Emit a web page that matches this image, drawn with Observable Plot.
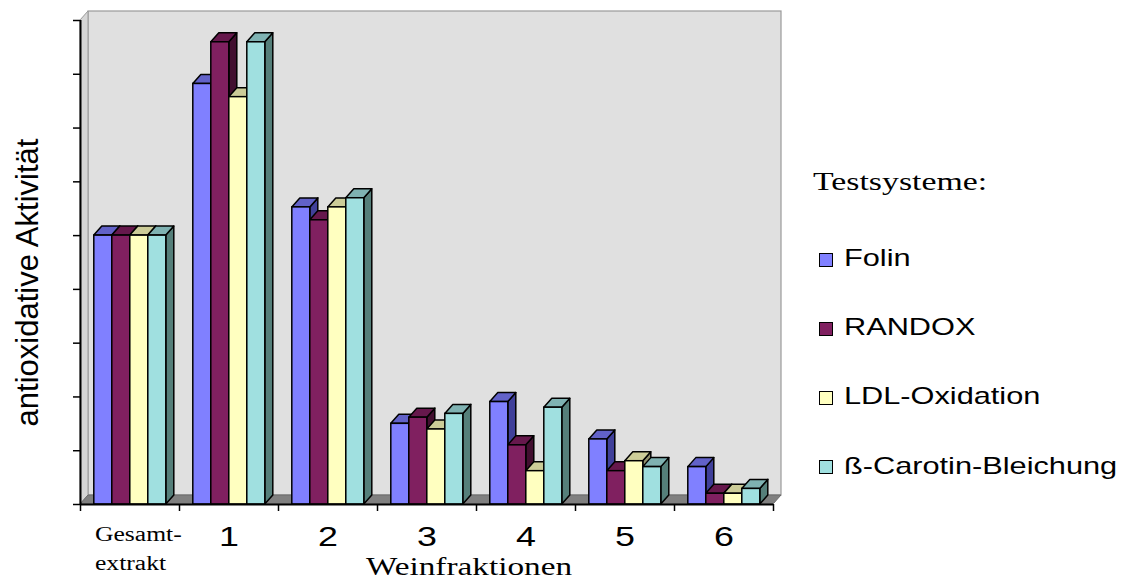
<!DOCTYPE html>
<html>
<head>
<meta charset="utf-8">
<script src="https://cdn.jsdelivr.net/npm/d3@7"></script>
<script src="https://cdn.jsdelivr.net/npm/@observablehq/plot@0.6"></script>
<style>
  body { margin: 0; background: #fff; }
  #wrap { position: relative; width: 1122px; height: 586px; overflow: hidden; }
  #wrap svg { position: absolute; left: 0; top: 0; }
  .lgTitle { position: absolute; font-family: "Liberation Serif", "Times New Roman", serif; font-size: 26px; line-height: 1; white-space: nowrap; transform-origin: left center; transform: scaleX(1.3); color: #000; }
  .lgText { position: absolute; font-family: "Liberation Sans", Arial, sans-serif; font-size: 24px; line-height: 1; white-space: nowrap; transform-origin: left center; transform: scaleX(1.28); color: #000; }
  .lgSw { position: absolute; width: 12px; height: 12px; border: 1px solid #000; }
</style>
</head>
<body>
<div id="wrap"></div>
<script>
// ---- data ----
const categories = ["Gesamt-\nextrakt", "1", "2", "3", "4", "5", "6"];
const seriesNames = ["Folin", "RANDOX", "LDL-Oxidation", "ß-Carotin-Bleichung"];
const folin   = [100, 156.4, 110.5, 30.0, 38.1, 24.2, 13.9];
const randox  = [100, 171.9, 105.7, 32.3, 22.0, 12.4, 4.0];
const ldl     = [100, 151.5, 110.5, 27.9, 12.4, 16.1, 4.0];
const carotin = [100, 171.9, 113.9, 33.7, 36.0, 13.9, 5.8];
const yTicks = [0, 20, 40, 60, 80, 100, 120, 140, 160, 180];
const xBoundaries = [0, 1, 2, 3, 4, 5, 6, 7];
const yLabel = "antioxidative Aktivität";
const xLabel = "Weinfraktionen";
const legendTitle = "Testsysteme:";

// ---- styles ----
const frontColors = ["#8080ff", "#802060", "#ffffc0", "#a0e0e0"];
const topColors   = ["#6262c8", "#66184c", "#cccc98", "#7fb2b2"];
const sideColors  = ["#40409a", "#420f30", "#8f8f6b", "#557f7a"];
const GROUP_START = 13.8 / 99, BAR_W = 18 / 99;
const DEPTH_X = 8, DEPTH_Y = 9;

const allSeries = [folin, randox, ldl, carotin];
const rows = [];
categories.forEach((c, i) => {
  allSeries.forEach((vals, j) => {
    rows.push({ i, j, category: c, series: seriesNames[j], value: vals[i] });
  });
});
const x1Of = d => d.i + GROUP_START + d.j * BAR_W;
const x2Of = d => d.i + GROUP_START + (d.j + 1) * BAR_W;

function backdrop(index, scales) {
  const x = scales.x, y = scales.y;
  const X0 = x(xBoundaries[0]), X1 = x(xBoundaries[xBoundaries.length - 1]);
  const Y0 = y(0), YT = y(yTicks[yTicks.length - 1]);
  const g = d3.create("svg:g");
  g.append("rect").attr("x", X0 + DEPTH_X).attr("y", YT - DEPTH_Y)
    .attr("width", X1 - X0).attr("height", Y0 - YT)
    .attr("fill", "#e0e0e0").attr("stroke", "#9a9a9a").attr("stroke-width", 1.2);
  g.append("polygon").attr("points", [[X0, YT], [X0 + DEPTH_X, YT - DEPTH_Y], [X0 + DEPTH_X, Y0 - DEPTH_Y], [X0, Y0]].join(" "))
    .attr("fill", "#d6d6d6").attr("stroke", "#9a9a9a").attr("stroke-width", 1);
  g.append("polygon").attr("points", [[X0, Y0], [X1, Y0], [X1 + DEPTH_X, Y0 - DEPTH_Y], [X0 + DEPTH_X, Y0 - DEPTH_Y]].join(" "))
    .attr("fill", "#808080").attr("stroke", "#6a6a6a").attr("stroke-width", 1);
  return g.node();
}

function depthFaces(index, scales) {
  const x = scales.x, y = scales.y;
  const g = d3.create("svg:g").attr("stroke", "#000").attr("stroke-width", 1.5).attr("stroke-linejoin", "round");
  const ordered = rows.slice().sort((a, b) => a.i - b.i || a.j - b.j);
  for (const d of ordered) {
    const X1 = x(x1Of(d)), X2 = x(x2Of(d)), Y0 = y(0), YV = y(d.value);
    g.append("polygon").attr("points", [[X2, YV], [X2 + DEPTH_X, YV - DEPTH_Y], [X2 + DEPTH_X, Y0 - DEPTH_Y], [X2, Y0]].join(" "))
      .attr("fill", sideColors[d.j]);
    g.append("polygon").attr("points", [[X1, YV], [X2, YV], [X2 + DEPTH_X, YV - DEPTH_Y], [X1 + DEPTH_X, YV - DEPTH_Y]].join(" "))
      .attr("fill", topColors[d.j]);
  }
  return g.node();
}

const numCats = categories.map((c, i) => ({ i, c })).filter(d => d.i > 0);
const firstCat = categories.map((c, i) => ({ i, c })).filter(d => d.i === 0);

const chart = Plot.plot({
  width: 1122,
  height: 586,
  marginLeft: 80,
  marginRight: 349,
  marginTop: 20,
  marginBottom: 82,
  style: { background: "transparent", overflow: "visible" },
  x: { type: "linear", domain: [0, 7], axis: null },
  y: { domain: [0, 180], axis: null },
  color: { domain: seriesNames, range: frontColors },
  marks: [
    backdrop,
    depthFaces,
    Plot.rectY(rows, { x1: x1Of, x2: x2Of, y1: 0, y2: "value", fill: "series", stroke: "#000", strokeWidth: 1.5 }),
    Plot.ruleX([0], { y1: 0, y2: 180, stroke: "#000", strokeWidth: 2 }),
    Plot.ruleY([0], { x1: 0, x2: 7, stroke: "#000", strokeWidth: 2 }),
    Plot.axisY({ ticks: yTicks, tickSize: 7, tickFormat: () => "", label: null, stroke: "#000", strokeWidth: 1.5 }),
    Plot.axisX({ ticks: xBoundaries, tickSize: 7, tickFormat: () => "", label: null, stroke: "#000", strokeWidth: 1.5 }),
    Plot.text(numCats, { x: d => d.i + 0.5, y: () => 0, text: "c", dy: 33, fontSize: 28, fontFamily: "Liberation Sans, Arial, sans-serif", fill: "#000" }),
    Plot.text(firstCat, { x: d => d.i + 0.5, y: () => 0, text: "c", dx: -35, dy: 42, textAnchor: "start", lineHeight: 1.45, fontSize: 20, fontFamily: "Liberation Serif, Times New Roman, serif", fill: "#000" }),
    Plot.text([xLabel], { frameAnchor: "bottom", text: d => d, dx: 42, dy: 70, fontSize: 26, fontFamily: "Liberation Serif, Times New Roman, serif", fill: "#000" }),
    Plot.text([yLabel], { frameAnchor: "left", textAnchor: "middle", text: d => d, rotate: -90, dx: -52, dy: 20, fontSize: 31, fontFamily: "Liberation Sans, Arial, sans-serif", fill: "#000" })
  ]
});

// widen horizontal texts like in the (horizontally stretched) original
d3.select(chart).selectAll("text").each(function () {
  const t = this.getAttribute("transform");
  if (t && t.indexOf("rotate") < 0 && this.textContent.trim() !== "") {
    this.setAttribute("transform", t + " scale(1.28,1)");
  }
});

const wrap = document.getElementById("wrap");
wrap.appendChild(chart);

// ---- legend ----
const lgLeft = 819, rowBaselines = [266.7, 335.7, 404.7, 474];
const title = document.createElement("div");
title.className = "lgTitle";
title.textContent = legendTitle;
title.style.left = "813px";
title.style.top = (191 - 0.8375 * 26) + "px";
wrap.appendChild(title);
seriesNames.forEach((name, j) => {
  const sw = document.createElement("div");
  sw.className = "lgSw";
  sw.style.background = frontColors[j];
  sw.style.left = lgLeft + "px";
  sw.style.top = (rowBaselines[j] - 14) + "px";
  wrap.appendChild(sw);
  const tx = document.createElement("div");
  tx.className = "lgText";
  tx.textContent = name;
  tx.style.left = "844px";
  tx.style.top = (rowBaselines[j] - 0.8465 * 24) + "px";
  wrap.appendChild(tx);
});
</script>
</body>
</html>
